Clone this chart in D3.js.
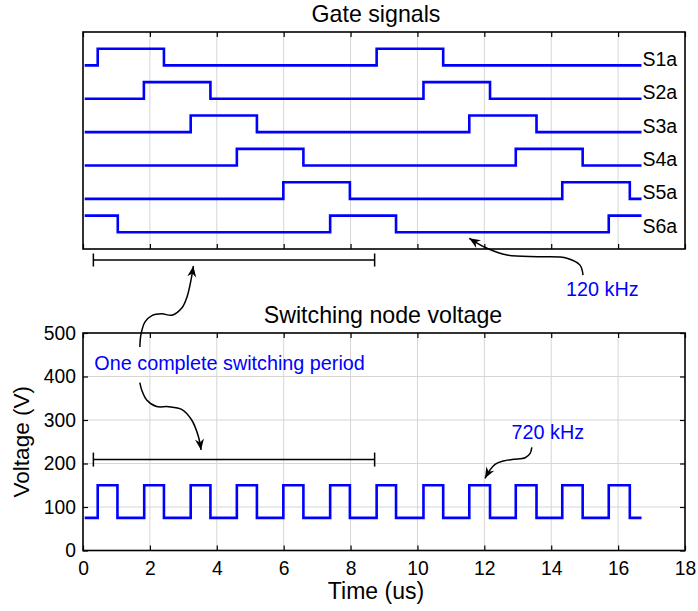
<!DOCTYPE html>
<html>
<head>
<meta charset="utf-8">
<script src="https://cdn.jsdelivr.net/npm/d3@7"></script>
<style>
  body { margin: 0; background: #fff; }
  text { font-family: "Liberation Sans", Arial, Helvetica, sans-serif; }
</style>
</head>
<body>
<svg id="chart" width="698" height="611"></svg>
<script>
// ---- data (time in microseconds, voltage in volts) ----
const timeTicks = [0, 2, 4, 6, 8, 10, 12, 14, 16, 18];
const voltTicks = [0, 100, 200, 300, 400, 500];
const timeGrid = [2, 4, 6, 8, 10, 12, 14, 16];
const voltGrid = [100, 200, 300, 400];

const tStart = 0.05;
const tEnd = 16.7;

// gate signals: name, initial state and switching instants
const gateNames = ["S1a", "S2a", "S3a", "S4a", "S5a", "S6a"];
const gateInitial = [0, 0, 0, 0, 0, 1];
const gateEdges = [
  [0.44, 2.42, 8.78, 10.77],
  [1.82, 3.81, 10.18, 12.17],
  [3.22, 5.20, 11.55, 13.56],
  [4.60, 6.59, 12.94, 14.94],
  [5.99, 7.98, 14.33, 16.35],
  [1.04, 7.39, 9.36, 15.72]
];

// switching node voltage: low / high level and switching instants
const vswLevels = [75, 150];
const vswEdges = [0.44, 1.03, 1.83, 2.42, 3.22, 3.81, 4.60, 5.20, 5.99, 6.59,
                  7.39, 7.98, 8.78, 9.36, 10.18, 10.77, 11.55, 12.17, 12.94, 13.56,
                  14.33, 14.94, 15.72, 16.35];

// one switching period marker (time span) and its level in each panel
const periodSpan = [0.31, 8.72];
const periodLevelGate = -0.66;
const periodLevelVolt = 209;

// annotation curves, in (time, voltage) units of the lower panel
const arrowUp = [[1.70, 468], [1.73, 495], [1.85, 525], [2.06, 540], [2.36, 544],
                 [2.66, 541], [2.96, 558], [3.11, 583], [3.23, 622], [3.30, 654]];
const arrowDown = [[1.70, 386], [1.755, 369], [1.905, 346], [2.20, 331], [2.55, 330.6],
                   [2.95, 324.6], [3.25, 300], [3.45, 262], [3.53, 231]];
const arrow120 = [[14.95, 633], [14.86, 656], [14.47, 672], [13.67, 675.4],
                  [12.68, 679.3], [12.08, 694.7], [11.55, 717.7]];
const arrow720 = [[13.42, 237], [13.37, 223.4], [13.22, 213.3], [12.87, 209.7],
                  [12.57, 205.7], [12.32, 198.2], [12.17, 185.1], [12.02, 166]];

const notePeriod = { text: "One complete switching period", t: 0.34, v: 416 };
const note120 = { text: "120 kHz", t: 15.53, v: 586 };
const note720 = { text: "720 kHz", t: 13.9, v: 256 };

// ---- layout ----
const svg = d3.select("#chart");
const left = 83, right = 685;
const gateTop = 32, gateBottom = 249;
const voltTop = 333, voltBottom = 550.5;
const blue = "#0000ff";
const gridColor = "#d6d6d6";

const x = d3.scaleLinear().domain([0, 18]).range([left, right]);
const yGate = d3.scaleLinear().domain([0, 13]).range([gateBottom, gateTop]);
const yV = d3.scaleLinear().domain([0, 500]).range([voltBottom, voltTop]);

// ---- arrowhead marker ----
svg.append("defs").append("marker")
  .attr("id", "head")
  .attr("viewBox", "-12 -5 12 10")
  .attr("refX", 0).attr("refY", 0)
  .attr("markerWidth", 12).attr("markerHeight", 10)
  .attr("markerUnits", "userSpaceOnUse")
  .attr("orient", "auto")
  .append("path")
  .attr("d", "M0,0 L-11,-4.5 L-7.5,0 L-11,4.5 Z")
  .attr("fill", "#000");

// ---- gate signals panel ----
const gP = svg.append("g");
gP.selectAll("line.grid").data(timeGrid).join("line")
  .attr("class", "grid")
  .attr("x1", d => x(d)).attr("x2", d => x(d))
  .attr("y1", gateTop).attr("y2", gateBottom)
  .attr("stroke", gridColor).attr("stroke-width", 1);

gP.append("g").attr("transform", `translate(0,${gateBottom})`)
  .call(d3.axisBottom(x).tickValues(timeTicks).tickSizeInner(-5).tickSizeOuter(0).tickFormat(""))
  .call(g => g.select(".domain").remove())
  .call(g => g.selectAll(".tick line").attr("stroke", "#000").attr("stroke-width", 1.2));
gP.append("g").attr("transform", `translate(0,${gateTop})`)
  .call(d3.axisTop(x).tickValues(timeTicks).tickSizeInner(-5).tickSizeOuter(0).tickFormat(""))
  .call(g => g.select(".domain").remove())
  .call(g => g.selectAll(".tick line").attr("stroke", "#000").attr("stroke-width", 1.2));

const stepLine = d3.line().curve(d3.curveStepAfter);
gateNames.forEach((name, i) => {
  const base = 11 - 2 * i;
  let s = gateInitial[i];
  const pts = [[tStart, s]];
  gateEdges[i].forEach(e => { s = 1 - s; pts.push([e, s]); });
  pts.push([tEnd, s]);
  gP.append("path")
    .attr("d", stepLine(pts.map(p => [x(p[0]), yGate(base + p[1])])))
    .attr("fill", "none").attr("stroke", blue).attr("stroke-width", 2.6)
    .attr("stroke-linejoin", "miter");
  gP.append("text")
    .attr("x", x(tEnd) + 1).attr("y", yGate(base) + 0.5)
    .attr("font-size", 19.5).attr("fill", "#000")
    .text(name);
});

gP.append("rect")
  .attr("x", left).attr("y", gateTop)
  .attr("width", right - left).attr("height", gateBottom - gateTop)
  .attr("fill", "none").attr("stroke", "#000").attr("stroke-width", 1.6);

svg.append("text")
  .attr("x", 376).attr("y", 21.7).attr("text-anchor", "middle")
  .attr("font-size", 23.2).text("Gate signals");

// ---- switching node voltage panel ----
const vP = svg.append("g");
vP.selectAll("line.gx").data(timeGrid).join("line")
  .attr("class", "gx")
  .attr("x1", d => x(d)).attr("x2", d => x(d))
  .attr("y1", voltTop).attr("y2", voltBottom)
  .attr("stroke", gridColor).attr("stroke-width", 1);
vP.selectAll("line.gy").data(voltGrid).join("line")
  .attr("class", "gy")
  .attr("x1", left).attr("x2", right)
  .attr("y1", d => yV(d)).attr("y2", d => yV(d))
  .attr("stroke", gridColor).attr("stroke-width", 1);

const styleAxis = g => {
  g.select(".domain").remove();
  g.selectAll(".tick line").attr("stroke", "#000").attr("stroke-width", 1.2);
  g.selectAll(".tick text").attr("fill", "#000")
    .attr("font-family", "\"Liberation Sans\", Arial, sans-serif").attr("font-size", 19.3);
};

vP.append("g").attr("transform", `translate(0,${voltBottom})`)
  .call(d3.axisBottom(x).tickValues(timeTicks).tickSizeInner(-5).tickSizeOuter(0).tickPadding(11))
  .call(styleAxis);
vP.append("g").attr("transform", `translate(0,${voltTop})`)
  .call(d3.axisTop(x).tickValues(timeTicks).tickSizeInner(-5).tickSizeOuter(0).tickFormat(""))
  .call(styleAxis);
vP.append("g").attr("transform", `translate(${left},0)`)
  .call(d3.axisLeft(yV).tickValues(voltTicks).tickSizeInner(-5).tickSizeOuter(0).tickPadding(7))
  .call(styleAxis);
vP.append("g").attr("transform", `translate(${right},0)`)
  .call(d3.axisRight(yV).tickValues(voltTicks).tickSizeInner(-5).tickSizeOuter(0).tickFormat(""))
  .call(styleAxis);

{
  let s = 0;
  const pts = [[tStart, vswLevels[s]]];
  vswEdges.forEach(e => { s = 1 - s; pts.push([e, vswLevels[s]]); });
  pts.push([tEnd, vswLevels[s]]);
  vP.append("path")
    .attr("d", stepLine(pts.map(p => [x(p[0]), yV(p[1])])))
    .attr("fill", "none").attr("stroke", blue).attr("stroke-width", 2.6);
}

vP.append("rect")
  .attr("x", left).attr("y", voltTop)
  .attr("width", right - left).attr("height", voltBottom - voltTop)
  .attr("fill", "none").attr("stroke", "#000").attr("stroke-width", 1.6);

svg.append("text")
  .attr("x", 383).attr("y", 322.7).attr("text-anchor", "middle")
  .attr("font-size", 23.2).text("Switching node voltage");
svg.append("text")
  .attr("x", 376).attr("y", 599.3).attr("text-anchor", "middle")
  .attr("font-size", 23).text("Time (us)");
svg.append("text")
  .attr("transform", `translate(29,${(voltTop + voltBottom) / 2}) rotate(-90)`)
  .attr("text-anchor", "middle")
  .attr("font-size", 22.5).text("Voltage (V)");

// ---- period brackets ----
function bracket(yPix, cap) {
  const g = svg.append("g").attr("stroke", "#000").attr("stroke-width", 1.5);
  g.append("line").attr("x1", x(periodSpan[0])).attr("x2", x(periodSpan[1]))
    .attr("y1", yPix).attr("y2", yPix);
  periodSpan.forEach(t => g.append("line")
    .attr("x1", x(t)).attr("x2", x(t))
    .attr("y1", yPix - cap).attr("y2", yPix + cap));
}
bracket(yGate(periodLevelGate), 6.5);
bracket(yV(periodLevelVolt), 7);

// ---- annotation arrows ----
const curve = d3.line().x(d => x(d[0])).y(d => yV(d[1])).curve(d3.curveCatmullRom.alpha(0.5));
[arrowUp, arrowDown, arrow120, arrow720].forEach(pts => {
  svg.append("path").attr("d", curve(pts))
    .attr("fill", "none").attr("stroke", "#000").attr("stroke-width", 1.5)
    .attr("marker-end", "url(#head)");
});

// ---- annotation texts ----
svg.append("text").attr("x", x(notePeriod.t)).attr("y", yV(notePeriod.v))
  .attr("font-size", 19.8).attr("fill", blue).text(notePeriod.text);
[note120, note720].forEach(n => svg.append("text")
  .attr("x", x(n.t)).attr("y", yV(n.v)).attr("text-anchor", "middle")
  .attr("font-size", 19.8).attr("fill", blue).text(n.text));
</script>
</body>
</html>
